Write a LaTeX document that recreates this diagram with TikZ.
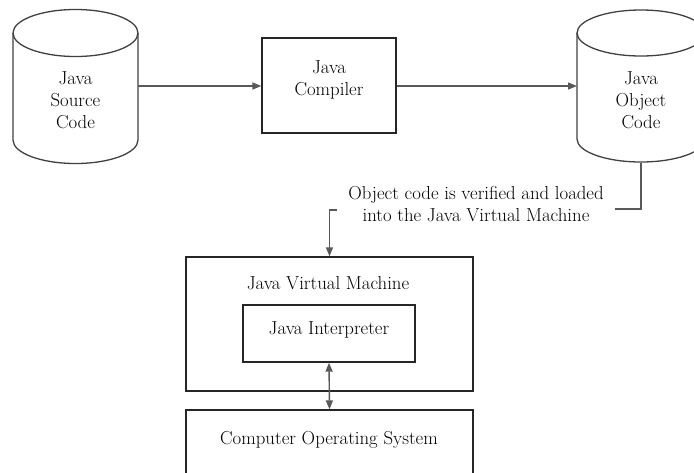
\documentclass[tikz,border=0pt]{standalone}
\usepackage{fontspec}
\usetikzlibrary{arrows.meta}
\begin{document}
\begin{tikzpicture}[x=1pt,y=-1pt,
  font=\fontsize{18.8pt}{22pt}\selectfont,
  box/.style={draw=black!85, line width=1.3pt, inner sep=0pt},
  ghost/.style={inner sep=0pt, outer sep=0pt},
  lbl/.style={align=center, inner sep=0pt, text=black},
  cyl/.style={draw=black!75, line width=1.3pt},
  conn/.style={draw=black!65, line width=1.4pt},
  tip/.style={-{Triangle[length=9pt,width=7pt]}},
  dtip/.style={{Triangle[length=9pt,width=7pt]}-{Triangle[length=9pt,width=7pt]}}
]
\useasboundingbox (0,0) rectangle (694,472);
\clip (0,0) rectangle (694,472);

% Java Source Code cylinder
\node[ghost, minimum width=125pt, minimum height=153.5pt] (src) at (75.5,86.75) {};
\draw[cyl] (75.5,33) ellipse [x radius=62.5pt, y radius=23.5pt];
\draw[cyl] (13,33) -- (13,140) arc [start angle=180, end angle=360, x radius=62.5pt, y radius=23.5pt] -- (138,33);
\node[lbl] (srct) at (75.5,100) {Java\\Source\\Code};

% Java Compiler box
\node[box, minimum width=134pt, minimum height=95pt] (comp) at (329,85.5) {};
\node[lbl] (compt) at (329,80) {Java\\Compiler};

% Java Object Code cylinder
\node[ghost, minimum width=128pt, minimum height=153pt] (obj) at (641,86.5) {};
\draw[cyl] (641,33) ellipse [x radius=64pt, y radius=23pt];
\draw[cyl] (577,33) -- (577,139) arc [start angle=180, end angle=360, x radius=64pt, y radius=23pt] -- (705,33);
\node[lbl] (objt) at (641,100) {Java\\Object\\Code};

% Connectors top row
\draw[conn, tip] (src.east |- 0,86) -- (comp.west |- 0,86);
\draw[conn, tip] (comp.east |- 0,86) -- (obj.west |- 0,86);

% Note
\node[lbl] (note) at (476,204) {Object code is verified and loaded\\into the Java Virtual Machine};

% JVM box
\node[box, minimum width=287pt, minimum height=134pt] (jvm) at (329.5,324) {};
\node[lbl] (jvmt) at (328,283) {Java Virtual Machine};
\node[box, minimum width=172pt, minimum height=57pt] (interp) at (329,333.5) {};
\node[lbl] (interpt) at (329,330) {Java Interpreter};

% OS box
\node[box, minimum width=287pt, minimum height=80pt] (os) at (329.5,450) {};
\node[lbl] (ost) at (329,440) {Computer Operating System};

% Connector from object code to JVM
\coordinate (c1) at (615,209);
\coordinate (c2) at (337,210);
\draw[conn] (obj.south) |- (c1);
\draw[conn, tip] (c2) -- (c2 -| jvm.north) -- (jvm.north);

% Interpreter <-> OS
\draw[conn, dtip] (interp.south) -- (os.north);
\end{tikzpicture}
\end{document}
